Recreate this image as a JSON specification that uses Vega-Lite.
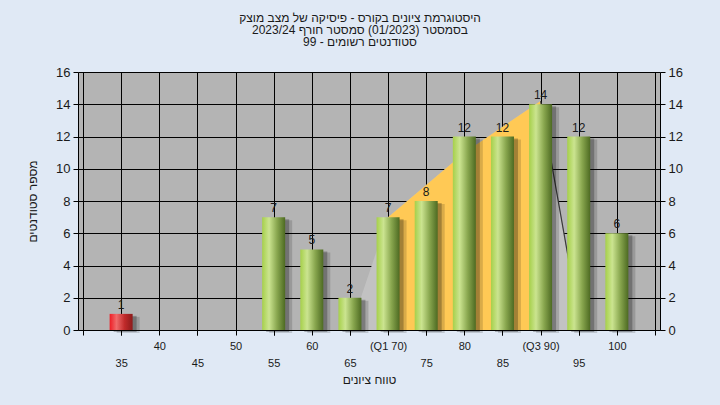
{
  "$schema": "https://vega.github.io/schema/vega-lite/v6.json",
  "width": 582,
  "height": 258,
  "autosize": "none",
  "padding": {"left": 78, "top": 72, "right": 60, "bottom": 75},
  "background": "#e0e9f5",
  "title": {
    "text": ["היסטוגרמת ציונים בקורס - פיסיקה של מצב מוצק", "בסמסטר  (01/2023)  סמסטר חורף 2023/24", "סטודנטים רשומים - 99"],
    "font": "Liberation Sans",
    "fontSize": 12,
    "fontWeight": "normal",
    "color": "#1a1a1a",
    "lineHeight": 12,
    "anchor": "middle",
    "dx": -9,
    "offset": 17
  },
  "config": {
    "view": {"fill": "#b4b4b4", "stroke": null},
    "font": "Liberation Sans",
    "axis": {
      "domainColor": "#000000",
      "tickColor": "#000000",
      "gridColor": "#000000",
      "gridOpacity": 1,
      "gridWidth": 1,
      "labelColor": "#1a1a1a",
      "titleColor": "#1a1a1a",
      "titleFontWeight": "normal",
      "labelFont": "Liberation Sans",
      "titleFont": "Liberation Sans",
      "labelOverlap": false
    }
  },
  "datasets": {
    "bars": [
      {"score": 35, "n": 1},
      {"score": 40, "n": 0},
      {"score": 45, "n": 0},
      {"score": 50, "n": 0},
      {"score": 55, "n": 7},
      {"score": 60, "n": 5},
      {"score": 65, "n": 2},
      {"score": 70, "n": 7},
      {"score": 75, "n": 8},
      {"score": 80, "n": 12},
      {"score": 85, "n": 12},
      {"score": 90, "n": 14},
      {"score": 95, "n": 12},
      {"score": 100, "n": 6}
    ],
    "shape": [
      {"x": 65, "y": 0},
      {"x": 70, "y": 7},
      {"x": 80, "y": 11},
      {"x": 90, "y": 14.2},
      {"x": 95.3, "y": 0}
    ]
  },
  "layer": [
    {
      "data": {"name": "shape"},
      "mark": {"type": "area", "color": "#c2c2c2", "interpolate": "linear"},
      "encoding": {
        "x": {
          "field": "x", "type": "quantitative",
          "scale": {"domain": [30, 105], "nice": false, "zero": false},
          "axis": {
            "orient": "bottom",
            "values": [30, 35, 40, 45, 50, 55, 60, 65, 70, 75, 80, 85, 90, 95, 100, 105],
            "labelExpr": "datum.value % 10 != 0 || datum.value == 30 ? '' : datum.value == 70 ? '(Q1 70)' : datum.value == 90 ? '(Q3 90)' : datum.label",
            "labelFontSize": 11,
            "labelPadding": 5,
            "labelBaseline": "top",
            "labelOverlap": false,
            "labelBound": false,
            "labelFlush": false,
            "tickSize": 5,
            "grid": true,
            "title": null
          }
        },
        "y": {
          "field": "y", "type": "quantitative",
          "scale": {"domain": [0, 16], "nice": false},
          "axis": {
            "orient": "left",
            "values": [0, 2, 4, 6, 8, 10, 12, 14, 16],
            "labelFontSize": 13,
            "tickSize": 5,
            "grid": true,
            "labelPadding": 3,
            "title": "מספר סטודנטים",
            "titleFontSize": 12,
            "titlePadding": 16
          }
        }
      }
    },
    {
      "data": {"name": "shape"},
      "transform": [{"filter": "datum.x >= 70 && datum.x <= 90"}],
      "mark": {"type": "area", "color": "#ffc955", "interpolate": "linear"},
      "encoding": {
        "x": {"field": "x", "type": "quantitative", "axis": null},
        "y": {"field": "y", "type": "quantitative", "axis": null}
      }
    },
    {
      "data": {"name": "shape"},
      "transform": [{"filter": "datum.x >= 90"}],
      "mark": {"type": "line", "color": "#3a3a3a", "strokeWidth": 1.2},
      "encoding": {
        "x": {"field": "x", "type": "quantitative", "axis": null},
        "y": {"field": "y", "type": "quantitative", "axis": null}
      }
    },
    {
      "data": {"name": "bars"},
      "transform": [{"filter": "datum.n > 0"}],
      "mark": {"type": "bar", "width": 23, "color": "#000000", "opacity": 0.15, "xOffset": 7, "yOffset": 3},
      "encoding": {
        "x": {"field": "score", "type": "quantitative", "axis": null},
        "y": {"field": "n", "type": "quantitative", "axis": null}
      }
    },
    {
      "data": {"name": "bars"},
      "transform": [{"filter": "datum.n > 0"}],
      "mark": {"type": "bar", "width": 23, "color": "#000000", "opacity": 0.25, "xOffset": 4, "yOffset": 2},
      "encoding": {
        "x": {"field": "score", "type": "quantitative", "axis": null},
        "y": {"field": "n", "type": "quantitative", "axis": null}
      }
    },
    {
      "data": {"name": "bars"},
      "transform": [{"filter": "datum.n > 0 && datum.score >= 55"}],
      "mark": {
        "type": "bar", "width": 23,
        "color": {
          "gradient": "linear", "x1": 0, "x2": 1, "y1": 0, "y2": 0,
          "stops": [
            {"offset": 0, "color": "#a6d04a"},
            {"offset": 0.3, "color": "#cbe490"},
            {"offset": 0.65, "color": "#88a64e"},
            {"offset": 1, "color": "#4d6a22"}
          ]
        }
      },
      "encoding": {
        "x": {"field": "score", "type": "quantitative", "axis": null},
        "y": {"field": "n", "type": "quantitative", "axis": null}
      }
    },
    {
      "data": {"name": "bars"},
      "transform": [{"filter": "datum.n > 0 && datum.score < 55"}],
      "mark": {
        "type": "bar", "width": 23,
        "color": {
          "gradient": "linear", "x1": 0, "x2": 1, "y1": 0, "y2": 0,
          "stops": [
            {"offset": 0, "color": "#ee1c24"},
            {"offset": 0.3, "color": "#f06a6a"},
            {"offset": 0.65, "color": "#c02a2a"},
            {"offset": 1, "color": "#8c1a1a"}
          ]
        }
      },
      "encoding": {
        "x": {"field": "score", "type": "quantitative", "axis": null},
        "y": {"field": "n", "type": "quantitative", "axis": null}
      }
    },
    {
      "data": {"name": "bars"},
      "transform": [{"filter": "datum.n > 0"}],
      "mark": {"type": "text", "baseline": "bottom", "dy": -2, "fontSize": 12, "color": "#1a1a1a"},
      "encoding": {
        "x": {"field": "score", "type": "quantitative", "axis": null},
        "y": {"field": "n", "type": "quantitative", "axis": null},
        "text": {"field": "n", "type": "quantitative"}
      }
    },
    {
      "mark": {"type": "text", "fontSize": 12, "color": "#1a1a1a", "baseline": "middle"},
      "encoding": {
        "x": {"datum": 67.5, "type": "quantitative", "axis": null},
        "y": {"datum": 15.35, "type": "quantitative", "axis": null},
        "text": {"value": "במשימה : ציון סופי במערכת האקדמית במחשב המרכזי"}
      }
    },
    {
      "data": {"name": "bars"},
      "mark": {"type": "point", "opacity": 0},
      "encoding": {
        "x": {
          "field": "score", "type": "quantitative",
          "axis": {
            "orient": "bottom",
            "values": [35, 45, 55, 65, 75, 85, 95],
            "labelFontSize": 11,
            "labelPadding": 22,
            "labelBaseline": "top",
            "labelOverlap": false,
            "labelBound": false,
            "labelFlush": false,
            "tickSize": 5,
            "domain": false,
            "grid": false,
            "title": "טווח ציונים",
            "titleFontSize": 12,
            "titlePadding": 6
          }
        },
        "y": {
          "field": "n", "type": "quantitative",
          "axis": {
            "orient": "right",
            "values": [0, 2, 4, 6, 8, 10, 12, 14, 16],
            "labelFontSize": 13,
            "tickSize": 5,
            "grid": false,
            "labelPadding": 3,
            "title": null
          }
        }
      }
    }
  ],
  "resolve": {"axis": {"x": "independent", "y": "independent"}}
}
